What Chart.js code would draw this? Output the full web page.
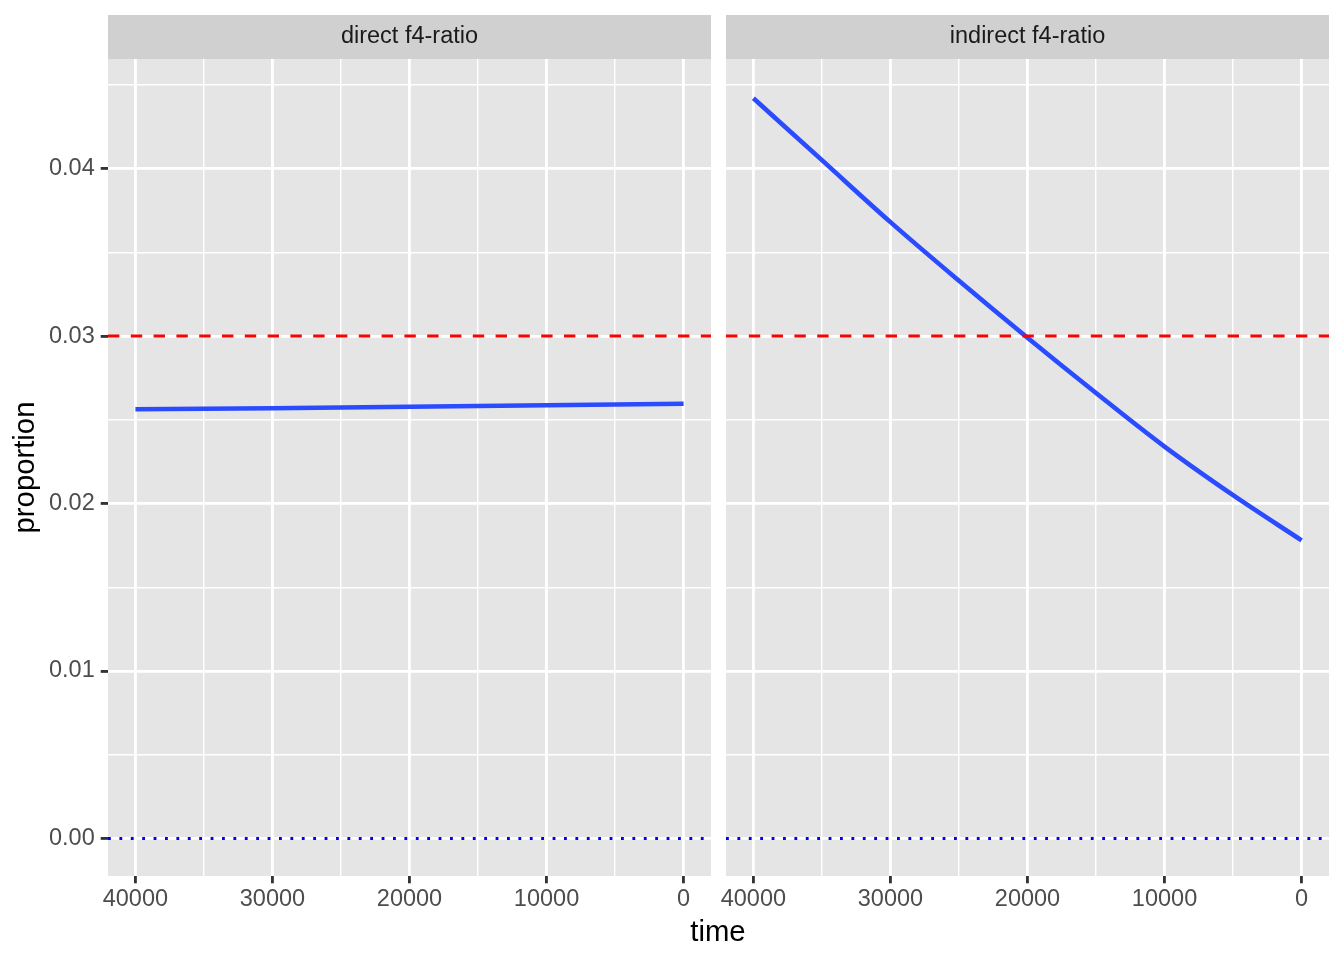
<!DOCTYPE html>
<html>
<head>
<meta charset="utf-8">
<title>f4-ratio over time</title>
<script src="https://cdn.jsdelivr.net/npm/chart.js@4/dist/chart.umd.min.js"></script>
<style>
  html, body { margin: 0; padding: 0; background: #fff; }
  #wrap { position: relative; width: 1344px; height: 960px; overflow: hidden; }
  #wrap canvas { position: absolute; top: 0; }
  #c1 { left: 0; }
  #c2 { left: 718px; }
  #xtitle {
    position: absolute; left: 618px; width: 200px; top: 916px;
    text-align: center; color: #000;
    font: 29.3px "Liberation Sans", Arial, sans-serif; line-height: 30px;
  }
</style>
</head>
<body>
<div id="wrap">
  <canvas id="c1" width="718" height="960"></canvas>
  <canvas id="c2" width="626" height="960"></canvas>
  <div id="xtitle">time</div>
</div>
<script>
// facet titles
const panelTitles = ["direct f4-ratio", "indirect f4-ratio"];

// direct f4-ratio
const directTime = [40000, 30000, 20000, 10000, 0];
const directValues = [0.02563, 0.02569, 0.02578, 0.02587, 0.02596];

// indirect f4-ratio
const indirectTime = [40000, 35000, 30000, 25000, 20000, 15000, 10000, 5000, 0];
const indirectValues = [0.0442, 0.0405, 0.0368, 0.0333, 0.0299, 0.0266, 0.0234, 0.0205, 0.0178];

// reference lines
const refLineValues = [0.03, 0];

// axes
const xMajor = [0, 10000, 20000, 30000, 40000];
const xMinor = [5000, 15000, 25000, 35000];
const xTickLabels = ["0", "10000", "20000", "30000", "40000"];
const xRange = [-2000, 42000];

const yMajor = [0, 0.01, 0.02, 0.03, 0.04];
const yMinor = [0.005, 0.015, 0.025, 0.035, 0.045];
const yTickLabels = ["0.00", "0.01", "0.02", "0.03", "0.04"];
const yRange = [-0.00224, 0.04654];

const FONT = '"Liberation Sans", Arial, Helvetica, sans-serif';
Chart.defaults.font.family = FONT;

const PANEL_BG = "#E5E5E5";
const STRIP_BG = "#D0D0D0";
const LINE_BLUE = "#2B4BFF";
const MAJOR_W = 2.85;
const MINOR_W = 1.42;

function isIn(list, v) {
  return list.some(function (m) { return Math.abs(m - v) < 1e-9; });
}

function toPoints(xs, ys) {
  return xs.map(function (x, i) { return { x: x, y: ys[i] }; });
}

const facetPlugin = {
  id: "facet",
  beforeDraw(chart, args, opts) {
    const a = chart.chartArea;
    const ctx = chart.ctx;
    ctx.save();
    ctx.fillStyle = PANEL_BG;
    ctx.fillRect(a.left, a.top, a.right - a.left, a.bottom - a.top);
    ctx.fillStyle = STRIP_BG;
    ctx.fillRect(a.left, a.top - 44, a.right - a.left, 44);
    ctx.fillStyle = "#1A1A1A";
    ctx.font = "23.5px " + FONT;
    ctx.textAlign = "center";
    ctx.textBaseline = "middle";
    ctx.fillText(opts.title, (a.left + a.right) / 2, a.top - 22);
    ctx.restore();
  },
  afterDatasetsDraw(chart) {
    const a = chart.chartArea;
    const ctx = chart.ctx;
    const y = chart.scales.y;
    ctx.save();
    ctx.beginPath();
    ctx.rect(a.left, a.top, a.right - a.left, a.bottom - a.top);
    ctx.clip();
    ctx.lineWidth = 2.85;
    ctx.lineCap = "butt";
    // red dashed at 0.03
    ctx.strokeStyle = "#FF0000";
    ctx.setLineDash([11.4, 11.4]);
    let py = y.getPixelForValue(refLineValues[0]);
    ctx.beginPath();
    ctx.moveTo(a.left, py);
    ctx.lineTo(a.right, py);
    ctx.stroke();
    // blue dotted at 0
    ctx.strokeStyle = "#0000FF";
    ctx.setLineDash([2.85, 8.55]);
    py = y.getPixelForValue(refLineValues[1]);
    ctx.beginPath();
    ctx.moveTo(a.left, py);
    ctx.lineTo(a.right, py);
    ctx.stroke();
    ctx.restore();
  },
};

function makeChart(canvasId, title, xs, ys, isFirst) {
  return new Chart(document.getElementById(canvasId), {
    type: "line",
    data: {
      datasets: [
        {
          data: toPoints(xs, ys),
          borderColor: LINE_BLUE,
          borderWidth: 4.6,
          pointRadius: 0,
          tension: 0.35,
          fill: false,
        },
      ],
    },
    options: {
      responsive: false,
      animation: false,
      devicePixelRatio: 1,
      layout: { padding: { top: 59, left: 0, right: isFirst ? 7 : 15, bottom: 0 } },
      plugins: {
        legend: { display: false },
        tooltip: { enabled: false },
        facet: { title: title },
      },
      scales: {
        x: {
          type: "linear",
          reverse: true,
          min: xRange[0],
          max: xRange[1],
          afterBuildTicks: function (scale) {
            scale.ticks = xMajor.concat(xMinor).sort(function (a, b) { return a - b; })
              .map(function (v) { return { value: v }; });
          },
          afterFit: function (scale) {
            scale.height = 84;
            scale.paddingLeft = 0;
            scale.paddingRight = 0;
          },
          ticks: {
            autoSkip: false,
            maxRotation: 0,
            padding: 2,
            color: "#4D4D4D",
            font: { size: 23.5 },
            callback: function (v) {
              const i = xMajor.indexOf(v);
              return i >= 0 ? xTickLabels[i] : "";
            },
          },
          grid: {
            color: "#FFFFFF",
            lineWidth: function (c) { return isIn(xMajor, c.tick.value) ? MAJOR_W : MINOR_W; },
            tickColor: function (c) { return isIn(xMajor, c.tick.value) ? "#333333" : "rgba(0,0,0,0)"; },
            tickLength: 7.3,
            tickWidth: MAJOR_W,
          },
          border: { display: false },
        },
        y: {
          type: "linear",
          min: yRange[0],
          max: yRange[1],
          afterBuildTicks: function (scale) {
            scale.ticks = yMajor.concat(yMinor).sort(function (a, b) { return a - b; })
              .map(function (v) { return { value: v }; });
          },
          afterFit: function (scale) {
            scale.width = isFirst ? 108 : 8;
            scale.paddingTop = 0;
            scale.paddingBottom = 0;
          },
          title: {
            display: isFirst,
            text: "proportion",
            color: "#000000",
            font: { size: 29.3 },
            padding: { top: 8, bottom: 0 },
          },
          ticks: {
            display: isFirst,
            autoSkip: false,
            padding: 6,
            color: "#4D4D4D",
            font: { size: 23.5 },
            callback: function (v) {
              const i = yMajor.findIndex(function (m) { return Math.abs(m - v) < 1e-9; });
              return i >= 0 ? yTickLabels[i] : "";
            },
          },
          grid: {
            color: "#FFFFFF",
            lineWidth: function (c) { return isIn(yMajor, c.tick.value) ? MAJOR_W : MINOR_W; },
            tickColor: function (c) {
              return isFirst && isIn(yMajor, c.tick.value) ? "#333333" : "rgba(0,0,0,0)";
            },
            drawTicks: isFirst,
            tickLength: 7.3,
            tickWidth: MAJOR_W,
          },
          border: { display: false },
        },
      },
    },
    plugins: [facetPlugin],
  });
}

makeChart("c1", panelTitles[0], directTime, directValues, true);
makeChart("c2", panelTitles[1], indirectTime, indirectValues, false);
</script>
</body>
</html>
